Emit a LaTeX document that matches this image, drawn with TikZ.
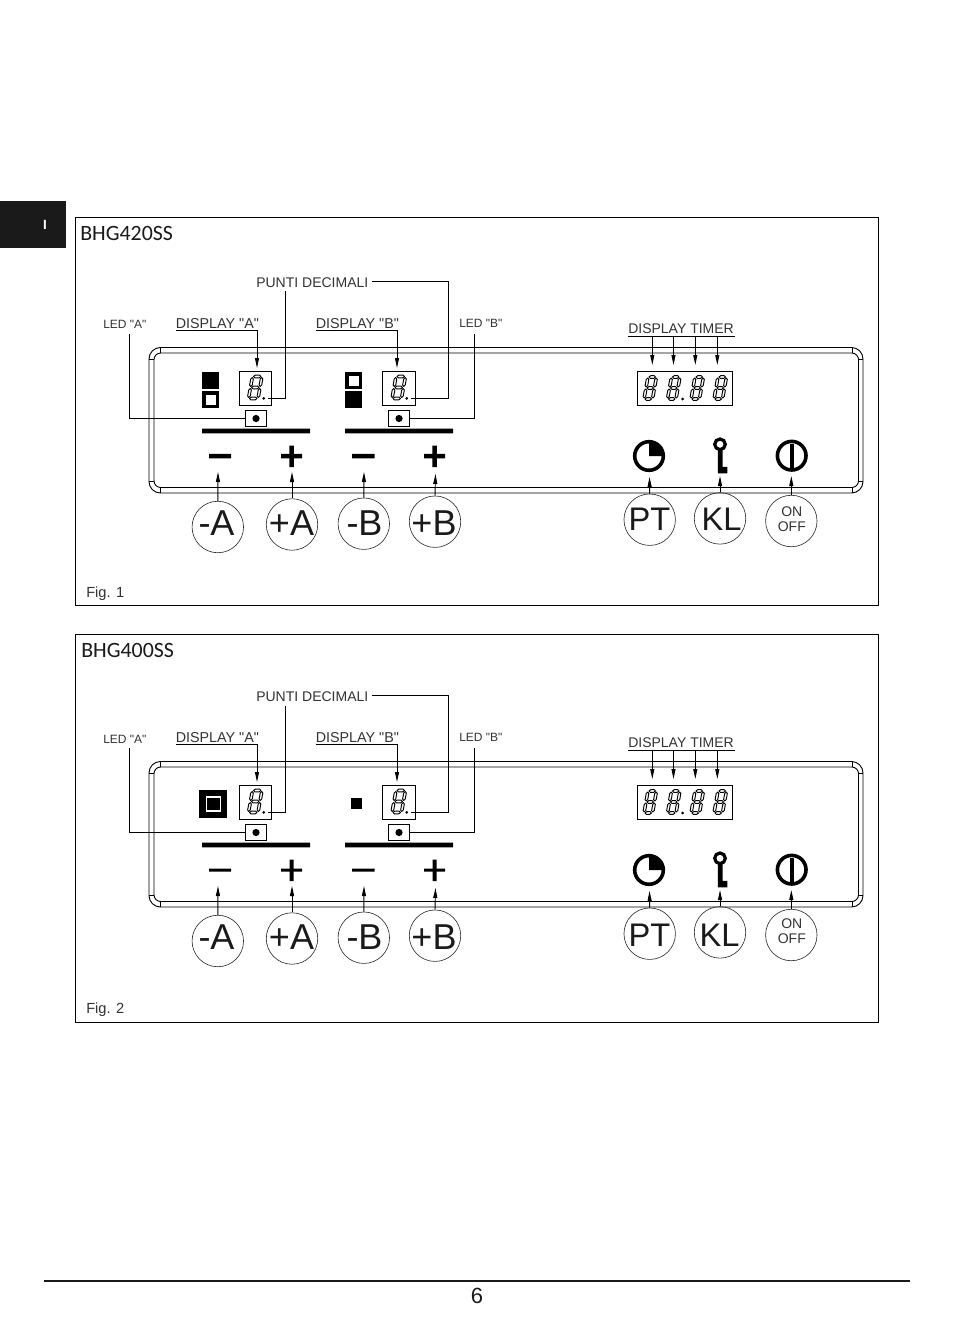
\documentclass[tikz,border=0pt]{standalone}
\usepackage{fontspec}
\setmainfont{Liberation Sans}[Ligatures=TeXOff]
\newfontfamily\calib{Carlito}
\usetikzlibrary{arrows.meta}
\definecolor{ink}{HTML}{1A1A1A}
\definecolor{lab}{HTML}{333333}
\tikzset{
  x=0.75pt,y=-0.75pt,
  ln/.style={draw=black,line width=0.7pt},
  pointer/.style={draw=black,line width=0.7pt,-{Triangle[length=7.5pt,width=3pt]}},
  leader/.style={draw=black,line width=0.75pt},
  boxn/.style={draw=black,line width=0.75pt,rectangle,inner sep=0pt,fill=white},
  ringn/.style={draw=black!85,line width=0.45pt,circle,minimum size=38.6pt,inner sep=0pt},
  lbl/.style={text=lab,font=\fontsize{10.5}{12}\selectfont,inner sep=0pt,anchor=base west},
  lbld/.style={text=lab,font=\fontsize{10.75}{12}\selectfont,inner sep=0pt,anchor=base west},
  lblsm/.style={text=lab,font=\fontsize{9}{10}\selectfont,inner sep=0pt,anchor=base west},
  big/.style={text=ink,font=\fontsize{27}{30}\selectfont,inner sep=0pt,anchor=base},
  bigk/.style={text=ink,font=\fontsize{24.5}{30}\selectfont,inner sep=0pt,anchor=base},
  seg/.style={draw=black,line width=0.72pt,fill=white,line join=round},
}
% one seven-segment digit: #1,#2 = lower left corner, #3 = width
\newcommand\sevenseg[3]{%
  \begin{scope}[shift={(#1,#2)},xslant=0.18]
    \foreach \yy in {0,-11,-22}{
      \draw[seg] (1,\yy) -- (2.5,\yy-1.3) -- (#3-2.5,\yy-1.3) -- (#3-1,\yy) -- (#3-2.5,\yy+1.3) -- (2.5,\yy+1.3) -- cycle;}
    \foreach \xx in {0,#3}\foreach \yy in {0,-11}{
      \draw[seg] (\xx,\yy-1) -- (\xx+1.3,\yy-2.5) -- (\xx+1.3,\yy-8.5) -- (\xx,\yy-10) -- (\xx-1.3,\yy-8.5) -- (\xx-1.3,\yy-2.5) -- cycle;}
  \end{scope}}
% #1 prefix, #2 vertical shift, #3 LED marks, #4 minus/plus bar, #5 plus stem, #6 PT/KL baseline, #7 ON/OFF centre, #8 KL x
\newcommand\panel[8]{%
\begin{scope}[shift={(0,#2)},name prefix=#1-]
  % housing
  \draw[ln,rounded corners=8.6pt] (149,347.5) rectangle (863,493);
  \draw[ln,rounded corners=5pt] (154,353) rectangle (858.5,487.5);
  \draw[ln] (160.5,347.5) -- (160.5,353) (852.5,347.5) -- (852.5,353)
            (160.5,487.5) -- (160.5,493) (852.5,487.5) -- (852.5,493)
            (149,359) -- (154,359) (858.5,359) -- (863,359)
            (149,481.5) -- (154,481.5) (858.5,481.5) -- (863,481.5);
  % displays
  \node[boxn,minimum width=24.6pt,minimum height=25.8pt] (dispA) at (255.5,388.3) {};
  \node[boxn,minimum width=24.6pt,minimum height=25.8pt] (dispB) at (398.7,388.3) {};
  \node[boxn,minimum width=71.5pt,minimum height=25.8pt] (timer) at (685,388.5) {};
  \sevenseg{248.5}{398.5}{9.5}\sevenseg{392}{398.5}{9.5}
  \fill (263.7,398.3) circle[radius=1.5] (406.7,398.3) circle[radius=1.5];
  \coordinate (dotA) at (267.5,398.3);
  \coordinate (dotB) at (411,398.3);
  \sevenseg{644}{399}{8.5}\sevenseg{667.5}{399}{8.5}\sevenseg{691}{399}{8.5}\sevenseg{714}{399}{8.5}
  \fill (682.5,399) circle[radius=1.5];
  % LEDs
  #3
  \node[boxn,minimum width=16pt,minimum height=12.3pt] (ledA) at (256,418.5) {};
  \node[boxn,minimum width=16pt,minimum height=12.3pt] (ledB) at (399,418.5) {};
  \fill (ledA.center) circle[radius=3.6] (ledB.center) circle[radius=3.6];
  % bars and +/- keys
  \fill (202,428.7) rectangle (310,433.3) (345,428.7) rectangle (453,433.3);
  \fill (209,456-#4/2) rectangle (231,456+#4/2) (352,456-#4/2) rectangle (374.5,456+#4/2);
  \fill (281,456-#4/2) rectangle (302,456+#4/2) (424,456-#4/2) rectangle (445,456+#4/2);
  \fill (291.5-#5/2,445.5) rectangle (291.5+#5/2,467) (434.5-#5/2,445.5) rectangle (434.5+#5/2,467);
  % timer icon
  \fill (649,456) -- (649,441) arc[start angle=-90,end angle=0,radius=15] -- cycle;
  \draw[line width=2.7pt] (649,456) circle[radius=14.3];
  \coordinate (icoPT) at (649.5,477);
  % key icon
  \draw[line width=2.4pt] (720,444.3) circle[radius=5.3];
  \fill (717.8,450) rectangle (722.7,473.3) (717.8,466.8) rectangle (727.3,473.3);
  \coordinate (icoKL) at (720,476);
  % power icon
  \draw[line width=2.7pt] (791.7,455.7) circle[radius=14.3];
  \fill (789.7,444) rectangle (793.7,467.5);
  \coordinate (icoON) at (791.3,476);
  % circled keys
  \node[ringn] (cMA) at (217.8,527) {};
  \node[ringn] (cPA) at (292,524.5) {};
  \node[ringn] (cMB) at (363.8,523.7) {};
  \node[ringn] (cPB) at (435,521.7) {};
  \node[ringn] (cPT) at (649.7,519.7) {};
  \node[ringn] (cKL) at (720,518.4) {};
  \node[ringn] (cON) at (791.3,521) {};
  \node[big] (tMA) at (216.5,535.5) {-A};
  \node[big] (tPA) at (291.5,535.5) {+A};
  \node[big] (tMB) at (364.5,535.5) {-B};
  \node[big] (tPB) at (434,535.5) {+B};
  \node[bigk] (tPT) at (649.5,#6) {PT};
  \node[bigk] (tKL) at (#8,#6) {KL};
  \node[text=lab,font=\fontsize{10.5}{11.4}\selectfont,align=center,inner sep=0pt] (tON) at (791.8,#7) {ON\\OFF};
  \coordinate (aMA) at (218,472);
  \coordinate (aPA) at (292,472);
  \coordinate (aMB) at (364,472);
  \coordinate (aPB) at (435.5,474);
  \draw[pointer] (cMA.north) -- (aMA);
  \draw[pointer] (cPA.north) -- (aPA);
  \draw[pointer] (cMB.north) -- (aMB);
  \draw[pointer] (cPB.north) -- (aPB);
  \draw[pointer] (cPT.north) -- (icoPT);
  \draw[pointer] (cKL.north) -- (icoKL);
  \draw[pointer] (cON.north) -- (icoON);
  % labels
  \node[lbl] (punti) at (256,287) {PUNTI DECIMALI};
  \node[lbld] (lDA) at (175.5,328) {DISPLAY "A"};
  \node[lbld] (lDB) at (315.5,328) {DISPLAY "B"};
  \node[lbl] (lDT) at (628,333) {DISPLAY TIMER};
  \node[lblsm] (lLA) at (103,329) {LED "A"};
  \node[lblsm] (lLB) at (459,327.5) {LED "B"};
  \coordinate (pR) at (372,281.5);
  \coordinate (pRc) at (448.5,281.5);
  \coordinate (pL) at (285,291.5);
  \draw[leader] (pR) -- (pRc) |- (dotB);
  \draw[leader] (pL) |- (dotA);
  \coordinate (uAl) at (176,330); \coordinate (uAr) at (257,330); \coordinate (tipA) at (257,368);
  \coordinate (uBl) at (316,330); \coordinate (uBr) at (397,330); \coordinate (tipB) at (397,368);
  \draw[leader] (uAl) -- (uAr); \draw[pointer] (uAr) -- (tipA);
  \draw[leader] (uBl) -- (uBr); \draw[pointer] (uBr) -- (tipB);
  \coordinate (lLAe) at (129.3,334); \coordinate (lLBe) at (474.3,334);
  \draw[leader] (lLAe) |- (ledA.west);
  \draw[leader] (lLBe) |- (ledB.east);
  \coordinate (uTl) at (628,336.3); \coordinate (uTr) at (735,336.3);
  \draw[leader] (uTl) -- (uTr);
  \foreach \n/\xx in {1/652.3,2/673.5,3/695.3,4/717.3}{
    \coordinate (uT\n) at (\xx,336.3); \coordinate (tT\n) at (\xx,365);
    \draw[pointer] (uT\n) -- (tT\n);}
\end{scope}}
\begin{document}
\begin{tikzpicture}
  \useasboundingbox[fill=white] (0,0) rectangle (954,1344);
  % page furniture
  \node[fill=ink,minimum width=49.5pt,minimum height=35.25pt,inner sep=0pt] (tab) at (33,224.5) {};
  \node[text=white,font=\bfseries\fontsize{10}{12}\selectfont,inner sep=0pt] (tabt) at (45,224.5) {I};
  \coordinate (rl) at (44,1281); \coordinate (rr) at (910,1281);
  \draw[ink,line width=2.2pt] (rl) -- (rr);
  \node[text=ink,font=\fontsize{16.5}{18}\selectfont,inner sep=0pt] (pg) at (477,1296) {6};
  % frames
  \node[draw=black,line width=0.6pt,minimum width=602.25pt,minimum height=290.6pt,inner sep=0pt] (f1) at (476.5,411.6) {};
  \node[draw=black,line width=0.6pt,minimum width=602.25pt,minimum height=291pt,inner sep=0pt] (f2) at (476.5,828) {};
  \node[font=\calib\fontsize{16.4}{18}\selectfont,text=ink,anchor=base west,inner sep=0pt] (t1) at (80,240.5) {BHG420SS};
  \node[font=\calib\fontsize{16.4}{18}\selectfont,text=ink,anchor=base west,inner sep=0pt] (t2) at (81,657.5) {BHG400SS};
  \node[lbl,font=\fontsize{11}{13}\selectfont] (c1) at (86,597) {Fig. 1};
  \node[lbl,font=\fontsize{11}{13}\selectfont] (c2) at (86,1013) {Fig. 2};
  \panel{a}{0}{%
    \fill (202,372) rectangle (219,389);
    \fill (202,391) rectangle (219,408);
    \fill[white] (205.5,394.5) rectangle (215.5,404.5);
    \fill (345,372) rectangle (362,389);
    \fill[white] (348.5,375.5) rectangle (358.5,385.5);
    \fill (345,391) rectangle (362,408);
  }{4.5}{4.5}{530}{519.5}{721.5}
  \panel{b}{414}{%
    \fill (199.3,376) rectangle (226.7,403.7);
    \draw[white,line width=1.1pt] (206.5,383) rectangle (220.5,397);
    \fill (350.7,383.7) rectangle (362,395);
  }{3}{4}{532}{517}{719.5}
\end{tikzpicture}
\end{document}
